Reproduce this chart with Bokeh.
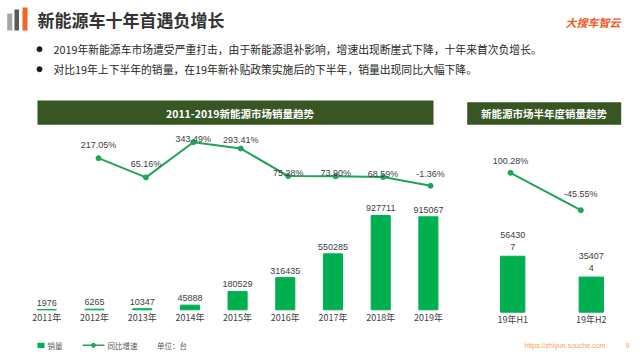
from bokeh.plotting import figure
from bokeh.models import Range1d, ColumnDataSource
from bokeh.core.properties import value
from bokeh.embed import file_html
from bokeh.resources import INLINE

# ---------------- data ----------------
years = ["2011年", "2012年", "2013年", "2014年", "2015年", "2016年", "2017年", "2018年", "2019年"]
sales = [1976, 6265, 10347, 45888, 180529, 316435, 550285, 927711, 915067]
growth_years = ["2012年", "2013年", "2014年", "2015年", "2016年", "2017年", "2018年", "2019年"]
growth = [217.05, 65.16, 343.49, 293.41, 75.28, 73.90, 68.59, -1.36]

halves = ["19年H1", "19年H2"]
half_sales = [564307, 354074]
half_growth = [100.28, -45.55]

title = "新能源车十年首遇负增长"
bullets = [
    "2019年新能源车市场遭受严重打击，由于新能源退补影响，增速出现断崖式下降，十年来首次负增长。",
    "对比19年上下半年的销量，在19年新补贴政策实施后的下半年，销量出现同比大幅下降。",
]
left_title = "2011-2019新能源市场销量趋势"
right_title = "新能源市场半年度销量趋势"

# ---------------- styles ----------------
BAR = "#00B050"
LINE = "#1FA45A"
HEAD = "#375623"
TXT = "#404040"
CJK = value("Noto Sans CJK SC")
NUM = value("Liberation Sans")
pct_label_dy = [13, 13, 3, 9, 3, 3, 3, 12]
half_pct_label_dy = [12, 16]

W, H = 632, 350
X_LO, X_HI = 0, W
Y_TOP, Y_BOT = 0, H
LEG_Y = 344.8


def axis_range(zero_px, px_per_unit, lo_px, hi_px, origin=0.0):
    """Range whose value `origin` sits at pixel zero_px; px_per_unit signed."""
    return Range1d(start=origin + (lo_px - zero_px) / px_per_unit,
                   end=origin + (hi_px - zero_px) / px_per_unit)


p = figure(width=W, height=H, output_backend="svg", toolbar_location=None,
           x_range=Range1d(X_LO, X_HI), y_range=Range1d(Y_BOT, Y_TOP),
           min_border=0, outline_line_color=None)
p.axis.visible = False
p.grid.visible = False
p.background_fill_color = "white"
p.border_fill_color = "white"

# scales for the two charts
p.extra_x_ranges = {
    "lx": axis_range(46.3, 47.7, X_LO, X_HI),
    "lxl": axis_range(98.0, 47.43, X_LO, X_HI, origin=1.0),
    "rx": axis_range(512.2, 78.6, X_LO, X_HI),
    "rxl": axis_range(510.0, 70.3, X_LO, X_HI),
}
p.extra_y_ranges = {
    "ly": axis_range(309.3, -1.0165e-4, Y_BOT, Y_TOP),
    "lyl": axis_range(185.13, -0.1264, Y_BOT, Y_TOP),
    "ry": axis_range(311.7, -0.992e-4, Y_BOT, Y_TOP),
    "ryl": axis_range(198.0, -0.2565, Y_BOT, Y_TOP),
}

# ---------------- header ----------------
p.quad(left=[6.7, 14, 22], right=[11.7, 18.5, 27], top=[13, 9, 7], bottom=[30, 30, 30],
       fill_color=["#A6A6A6", "#595959", "#F26522"], line_color=None)
p.text(x=[37], y=[19], text=[title], text_font=CJK, text_font_size="17px",
       text_font_style="bold", text_color="#333333", text_baseline="middle")
p.text(x=[565], y=[21], text=["大搜车智云"], text_font=CJK, text_font_size="11px",
       text_font_style="bold italic", text_color="#F05A22", text_baseline="middle")
p.scatter(x=[39, 39], y=[48.7, 68.7], size=5, color="#1A1A1A")
p.text(x=[53, 53], y=[48.7, 68.7], text=bullets, text_font=CJK, text_font_size="10.8px",
       text_color="#262626", text_baseline="middle")

# chart headers
p.quad(left=[37, 466.7], right=[433, 620.7], top=[100, 101.7], bottom=[124.3, 124.3],
       fill_color=HEAD, line_color=None)
p.text(x=[239.5, 543.5], y=[112.5, 113], text=[left_title, right_title], text_font=CJK,
       text_font_size="10.5px", text_font_style="bold", text_color="white",
       text_align="center", text_baseline="middle")

# ---------------- left chart ----------------
li = list(range(len(years)))
lsrc = ColumnDataSource(dict(x=li, top=sales, label=[str(v) for v in sales], cat=years))
p.vbar(x="x", top="top", bottom=0, width=0.4, source=lsrc, fill_color=BAR,
       line_color=BAR, line_width=1, x_range_name="lx", y_range_name="ly")
p.text(x="x", y="top", text="label", source=lsrc, x_range_name="lx", y_range_name="ly",
       text_font=NUM, text_font_size="9px", text_color=TXT, text_align="center",
       text_baseline="bottom", y_offset=-4)
p.text(x="x", y=0, text="cat", source=lsrc, x_range_name="lx", y_range_name="ly",
       text_font=CJK, text_font_size="9px", text_color=TXT, text_align="center",
       text_baseline="middle", y_offset=7.5)

gi = [years.index(y) for y in growth_years]
gsrc = ColumnDataSource(dict(x=gi, y=growth, label=["%.2f%%" % v for v in growth],
                             dy=[-d for d in pct_label_dy]))
p.line(x="x", y="y", source=gsrc, line_color=LINE, line_width=2,
       x_range_name="lxl", y_range_name="lyl")
p.scatter(x="x", y="y", source=gsrc, size=5, color=LINE,
          x_range_name="lxl", y_range_name="lyl")
p.text(x="x", y="y", text="label", source=gsrc, x_range_name="lxl", y_range_name="lyl",
       text_font=NUM, text_font_size="9px", text_color=TXT, text_align="center",
       text_baseline="middle", y_offset="dy")

# ---------------- right chart ----------------
ri = list(range(len(halves)))
rsrc = ColumnDataSource(dict(x=ri, top=half_sales,
                             label=[str(v)[:5] + "\n" + str(v)[5:] for v in half_sales],
                             cat=halves))
p.vbar(x="x", top="top", bottom=0, width=0.31, source=rsrc, fill_color=BAR,
       line_color=BAR, line_width=1, x_range_name="rx", y_range_name="ry")
p.text(x="x", y="top", text="label", source=rsrc, x_range_name="rx", y_range_name="ry",
       text_font=NUM, text_font_size="9px", text_color=TXT, text_align="center",
       text_baseline="bottom", y_offset=-4, text_line_height=1.25)
p.text(x="x", y=0, text="cat", source=rsrc, x_range_name="rx", y_range_name="ry",
       text_font=CJK, text_font_size="9px", text_color=TXT, text_align="center",
       text_baseline="middle", y_offset=7.6)

hsrc = ColumnDataSource(dict(x=ri, y=half_growth, label=["%.2f%%" % v for v in half_growth],
                             dy=[-d for d in half_pct_label_dy]))
p.line(x="x", y="y", source=hsrc, line_color=LINE, line_width=2,
       x_range_name="rxl", y_range_name="ryl")
p.scatter(x="x", y="y", source=hsrc, size=5, color=LINE,
          x_range_name="rxl", y_range_name="ryl")
p.text(x="x", y="y", text="label", source=hsrc, x_range_name="rxl", y_range_name="ryl",
       text_font=NUM, text_font_size="9px", text_color=TXT, text_align="center",
       text_baseline="middle", y_offset="dy")

# ---------------- legend & footer ----------------
p.quad(left=[37], right=[44], top=[LEG_Y - 2.6], bottom=[LEG_Y + 2.6], fill_color=BAR,
       line_color=None)
p.text(x=[47], y=[LEG_Y], text=["销量"], text_font=CJK, text_font_size="7.5px",
       text_color="#595959", text_baseline="middle")
p.segment(x0=[82], y0=[LEG_Y], x1=[104], y1=[LEG_Y], line_color=LINE, line_width=1.5)
p.scatter(x=[93], y=[LEG_Y], size=4, color=LINE)
p.text(x=[107], y=[LEG_Y], text=["同比增速"], text_font=CJK, text_font_size="7.5px",
       text_color="#595959", text_baseline="middle")
p.text(x=[156.5], y=[LEG_Y], text=["单位：台"], text_font=CJK, text_font_size="7.5px",
       text_color="#595959", text_baseline="middle")
p.text(x=[524, 625], y=[LEG_Y, LEG_Y], text=["https://zhiyun.souche.com", "9"],
       text_font=NUM, text_font_size="7px", text_color="#F5A05A", text_baseline="middle")

open("out.html", "w").write(file_html(p, INLINE))
